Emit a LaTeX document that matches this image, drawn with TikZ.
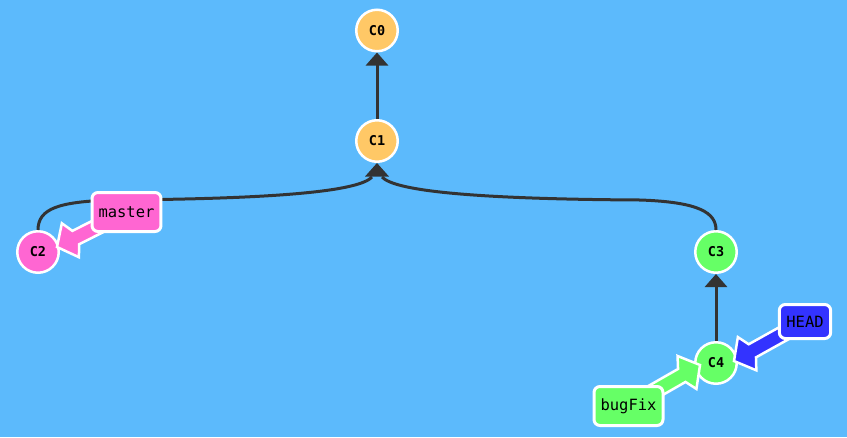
\documentclass[tikz,border=0pt]{standalone}
\usepackage{fontspec}
\setmonofont{DejaVu Sans Mono}
\usetikzlibrary{calc,arrows.meta}
\definecolor{bgc}{RGB}{92,186,252}
\definecolor{orc}{RGB}{255,200,102}
\definecolor{pkc}{RGB}{255,102,210}
\definecolor{grc}{RGB}{102,255,102}
\definecolor{blc}{RGB}{51,51,255}
\definecolor{edc}{RGB}{51,51,51}
\newcommand\fatarr[3]{%
  \coordinate (fS) at (#1);
  \coordinate (fT) at (#2);
  \coordinate (fJ) at ($(fT)!21pt!(fS)$);
  \coordinate (fB) at ($(fT)!15pt!(fS)$);
  \draw[branchar, fill=#3] ($(fS)!7.5pt!90:(fT)$) -- ($(fJ)!7.5pt!-90:(fS)$) -- ($(fB)!19pt!-90:(fS)$) -- (fT) -- ($(fB)!19pt!90:(fS)$) -- ($(fJ)!7.5pt!90:(fS)$) -- ($(fS)!7.5pt!-90:(fT)$) -- cycle;}
\tikzset{
  commit/.style={circle, draw=white, line width=2.5pt, minimum size=41.5pt, inner sep=0pt,
    font=\ttfamily\bfseries\fontsize{13.5}{14}\selectfont},
  branch/.style={draw=white, line width=3pt, rounded corners=6pt, inner xsep=6.5pt, inner ysep=0pt,
    minimum height=39pt, font=\ttfamily\fontsize{15.5}{18}\selectfont},
  edge/.style={draw=edc, line width=3pt},
  arr/.style={-{Triangle[width=22pt,length=13pt]}},
  branchar/.style={draw=white, line width=2.5pt, line join=miter, miter limit=4},
}
\begin{document}
\begin{tikzpicture}[x=1pt,y=-1pt]
\fill[bgc] (0,0) rectangle (847,437);
\useasboundingbox (0,0) rectangle (847,437);
% commits
\node[commit, fill=orc] (C0) at (377,30.5) {C0};
\node[commit, fill=orc] (C1) at (377,141) {C1};
\node[commit, fill=pkc] (C2) at (38,252) {C2};
\node[commit, fill=grc] (C3) at (716,252) {C3};
\node[commit, fill=grc] (C4) at (716,363) {C4};
% edges
\draw[edge, arr] (C1) -- (C0);
\draw[edge, arr] (C4) -- (C3);
\coordinate (jl) at ($(C1.south)+(-5,14)$);
\coordinate (jr) at ($(C1.south)+(5,14)$);
\draw[edge] (C2.north) .. controls (38,208) and (60,202) .. (110,200)
  .. controls (290,199) and (360,190) .. (jl);
\draw[edge] (C3.north) .. controls (716,213) and (700,202) .. (640,200)
  .. controls (464,199) and (394,190) .. (jr);
\fill[edc] (C1.south) -- ++(-12,13.5) -- ++(24,0) -- cycle;
% branch label positions
\coordinate (mpos) at (126.5,212);
\coordinate (hpos) at (805,321.5);
\coordinate (bpos) at (628.5,406);
\coordinate (mtip) at ($(C2)+(19,-5)$);
\coordinate (htip) at ($(C4)+(18,-2)$);
\coordinate (btip) at ($(C4)+(-16,2)$);
\fatarr{mpos}{mtip}{pkc}
\fatarr{hpos}{htip}{blc}
\fatarr{bpos}{btip}{grc}
\node[branch, fill=pkc] (master) at (mpos) {master};
\node[branch, fill=blc, minimum height=34pt, inner xsep=7pt] (HEAD) at (hpos) {HEAD};
\node[branch, fill=grc] (bugFix) at (bpos) {bugFix};
\end{tikzpicture}
\end{document}
